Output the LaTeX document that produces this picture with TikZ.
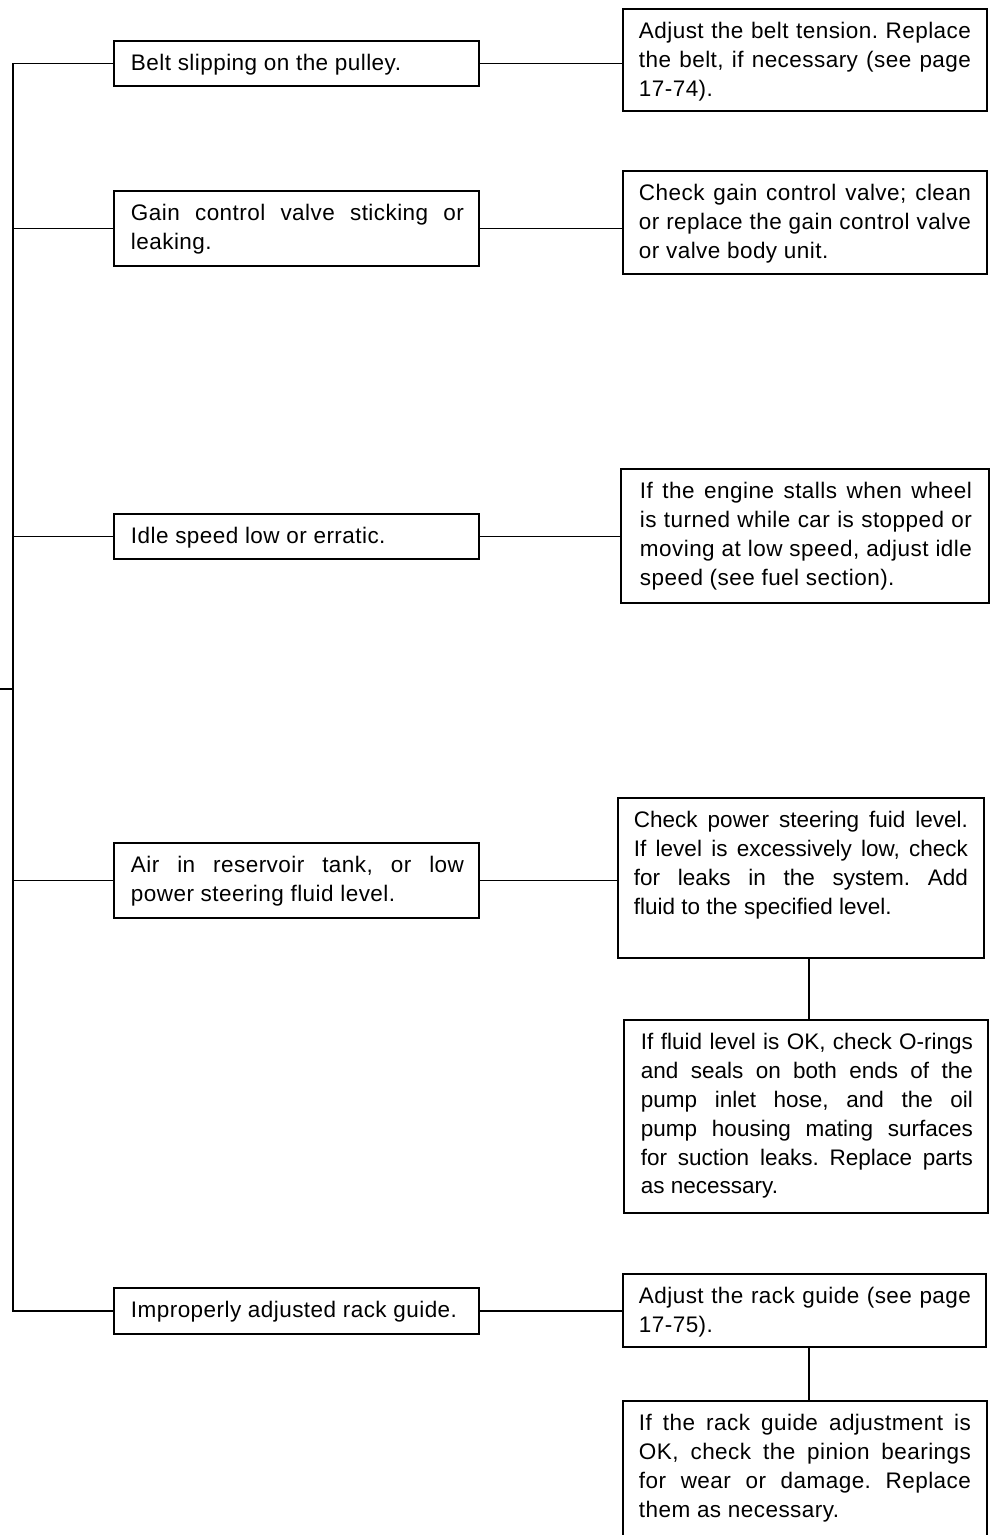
\documentclass[tikz,border=0pt]{standalone}
\usepackage{fontspec}
\setmainfont{Liberation Sans}
\newfontfamily\widefont[LetterSpace=2]{Liberation Sans}
\tolerance=10000
\pretolerance=10000
\frenchspacing
\newcommand{\tbox}[2]{\parbox[t]{#1}{\rule{0pt}{17pt}#2}}
\begin{document}
\begin{tikzpicture}[x=1pt,y=-1pt,
  line width=1.9pt,
  box/.style={draw=black, line width=1.9pt, inner sep=0pt, anchor=north west, fill=white},
  txt/.style={inner sep=0pt, anchor=north west, font=\widefont\fontsize{22.5}{28.8}\selectfont},
  tighttxt/.style={txt, font=\normalfont\fontsize{22.5}{28.8}\selectfont},
  link/.style={draw=black, line width=1.9pt}]
\useasboundingbox (0,0) rectangle (992,1535);
\clip (0,0) rectangle (992,1535);
\fill[white] (0,0) rectangle (992,1535);

% left (cause) boxes
\node[box, minimum width=365pt, minimum height=45pt] (b1) at (113,40) {};
\node[box, minimum width=365pt, minimum height=75pt] (b2) at (113,190) {};
\node[box, minimum width=365pt, minimum height=45pt] (b3) at (113,513) {};
\node[box, minimum width=365pt, minimum height=75pt] (b4) at (113,842) {};
\node[box, minimum width=365pt, minimum height=46pt] (b5) at (113,1287) {};

% right (remedy) boxes
\node[box, minimum width=364pt, minimum height=102pt] (r1) at (622,8) {};
\node[box, minimum width=364pt, minimum height=103pt] (r2) at (622,170) {};
\node[box, minimum width=368pt, minimum height=134pt] (r3) at (620,468) {};
\node[box, minimum width=366pt, minimum height=160pt] (r4) at (617,797) {};
\node[box, minimum width=364pt, minimum height=193pt] (r5) at (623,1019) {};
\node[box, minimum width=363pt, minimum height=73pt] (r6) at (622,1273) {};
\node[box, minimum width=364pt, minimum height=170pt] (r7) at (622,1400) {};

% texts
\node[txt] (t1) at ([shift={(17,13)}]b1.north west) {\tbox{333pt}{Belt slipping on the pulley.}};
\node[txt] (t2) at ([shift={(17,13)}]b2.north west) {\tbox{333pt}{Gain control valve sticking or\linebreak leaking.}};
\node[txt] (t3) at ([shift={(17,13)}]b3.north west) {\tbox{333pt}{Idle speed low or erratic.}};
\node[txt] (t4) at ([shift={(17,13)}]b4.north west) {\tbox{333pt}{Air in reservoir tank, or low\linebreak power steering fluid level.}};
\node[txt] (t5) at ([shift={(17,13)}]b5.north west) {\tbox{333pt}{Improperly adjusted rack guide.}};

\node[txt] (s1) at ([shift={(16,13)}]r1.north west) {\tbox{332pt}{Adjust the belt tension. Replace\linebreak the belt, if necessary (see page\linebreak 17-74).}};
\node[txt] (s2) at ([shift={(16,13)}]r2.north west) {\tbox{332pt}{Check gain control valve; clean\linebreak or replace the gain control valve\linebreak or valve body unit.}};
\node[txt] (s3) at ([shift={(19,13)}]r3.north west) {\tbox{332pt}{If the engine stalls when wheel\linebreak is turned while car is stopped or\linebreak moving at low speed, adjust idle\linebreak speed (see fuel section).}};
\node[tighttxt] (s4) at ([shift={(16,13)}]r4.north west) {\tbox{334pt}{Check power steering fuid level.\linebreak If level is excessively low, check\linebreak for leaks in the system. Add\linebreak fluid to the specified level.}};
\node[tighttxt] (s5) at ([shift={(17,13)}]r5.north west) {\tbox{332pt}{If fluid level is OK, check O-rings\linebreak and seals on both ends of the\linebreak pump inlet hose, and the oil\linebreak pump housing mating surfaces\linebreak for suction leaks. Replace parts\linebreak as necessary.}};
\node[txt] (s6) at ([shift={(16,13)}]r6.north west) {\tbox{332pt}{Adjust the rack guide (see page\linebreak 17-75).}};
\node[txt] (s7) at ([shift={(16,13)}]r7.north west) {\tbox{332pt}{If the rack guide adjustment is\linebreak OK, check the pinion bearings\linebreak for wear or damage. Replace\linebreak them as necessary.}};

% spine on the left
\draw[link] (b1.west) -- ++(-100,0) coordinate (spt) -- (spt |- b5.west) -- (b5.west);
\draw[link] (b2.west) -- (b2.west -| spt);
\draw[link] (b3.west) -- (b3.west -| spt);
\draw[link] (b4.west) -- (b4.west -| spt);
\coordinate (stub) at (0,689);
\draw[link] (stub) -- (stub -| spt);

% cause -> remedy
\draw[link] (b1.east) -- (b1.east -| r1.west);
\draw[link] (b2.east) -- (b2.east -| r2.west);
\draw[link] (b3.east) -- (b3.east -| r3.west);
\draw[link] (b4.east) -- (b4.east -| r4.west);
\draw[link] (b5.east) -- (b5.east -| r6.west);

% remedy -> next remedy
\coordinate (vx) at (809,0);
\draw[link] (r4.south -| vx) -- (r5.north -| vx);
\draw[link] (r6.south -| vx) -- (r7.north -| vx);
\end{tikzpicture}
\end{document}
